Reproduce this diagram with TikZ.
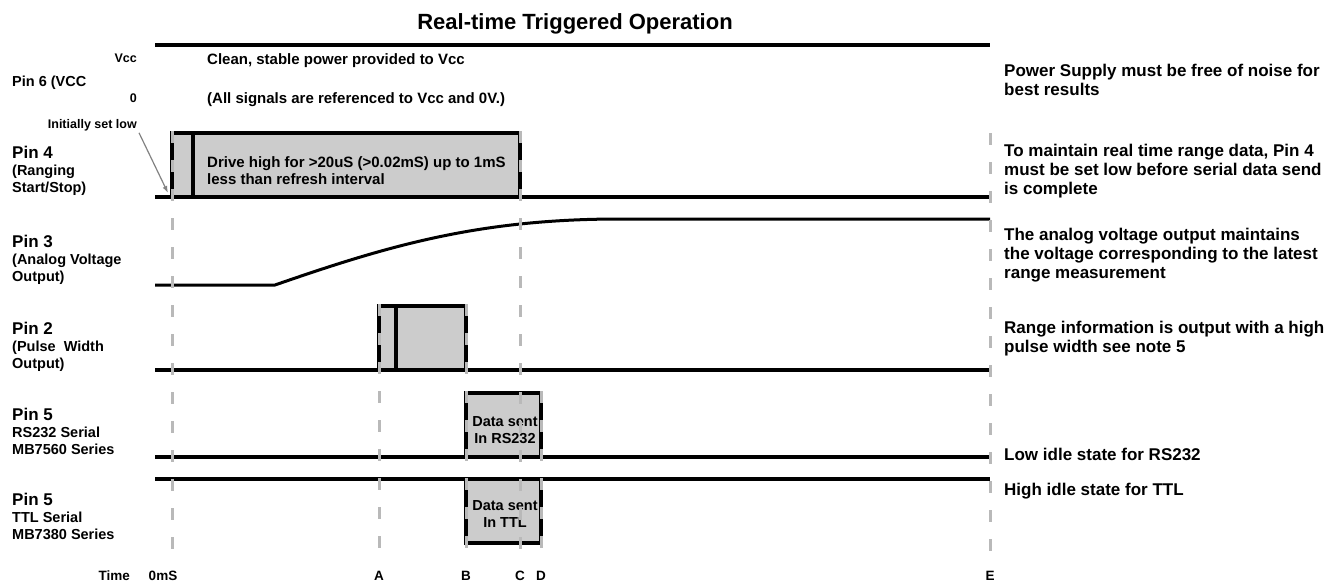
\documentclass[tikz,border=0pt]{standalone}
\usepackage{fontspec}
\setmainfont{Liberation Sans}
\usetikzlibrary{positioning, arrows.meta}
\definecolor{boxgray}{RGB}{204,204,204}
\definecolor{tgray}{RGB}{185,185,185}
\definecolor{agray}{RGB}{130,130,130}

\begin{document}
\begin{tikzpicture}[x=1pt, y=-1pt, font=\bfseries,
        >={Latex[length=7pt, width=5pt]},
        sig/.style = {line width=4pt},
        ana/.style = {line width=3pt, line join=round},
        pulse/.style = {fill=boxgray},
        tline/.style = {draw=tgray, line width=3pt, dash pattern=on 12pt off 17pt},
        pinlbl/.style = {anchor=base west, align=left, inner sep=0pt,
                        font=\fontsize{14.5}{17}\selectfont\bfseries},
        note/.style = {anchor=base west, align=left, inner sep=0pt,
                        font=\fontsize{17}{19}\selectfont\bfseries},
        txt/.style = {anchor=base west, align=left, inner sep=0pt,
                        font=\fontsize{15}{16.5}\selectfont\bfseries},
        small/.style = {anchor=base east, inner sep=0pt,
                        font=\fontsize{12.5}{14}\selectfont\bfseries},
        data/.style = {anchor=base, align=center, inner sep=0pt,
                        font=\fontsize{14.5}{17}\selectfont\bfseries},
        tlbl/.style = {anchor=base, inner sep=0pt,
                        font=\fontsize{13.5}{15}\selectfont\bfseries}]
        \useasboundingbox (0,0) rectangle (1335,586);

        % title
        \node[anchor=base, inner sep=0pt, font=\fontsize{22}{26}\selectfont\bfseries]
            (title) at (575,30) {Real-time Triggered Operation};

        % pin labels (base = last line)
        \node[pinlbl] (pin6) at (12,86) {Pin 6 (VCC};
        \node[small] (vcc) at (137,63) {Vcc};
        \node[small] (zero) at (137,102) {0};
        \node[small] (init) at (137,128) {Initially set low};
        \node[pinlbl] (pin4) at (12,192) {{\fontsize{17}{17}\selectfont Pin 4}\\(Ranging\\Start/Stop)};
        \node[pinlbl] (pin3) at (12,281) {{\fontsize{17}{17}\selectfont Pin 3}\\(Analog Voltage\\Output)};
        \node[pinlbl] (pin2) at (12,368) {{\fontsize{17}{17}\selectfont Pin 2}\\(Pulse\ \ Width\\Output)};
        \node[pinlbl] (pin5a) at (12,454) {{\fontsize{17}{17}\selectfont Pin 5}\\RS232 Serial\\MB7560 Series};
        \node[pinlbl] (pin5b) at (12,539) {{\fontsize{17}{17}\selectfont Pin 5}\\TTL Serial\\MB7380 Series};

        % pulses
        \fill[pulse] (172,133) rectangle (520,197);
        \fill[pulse] (379,306) rectangle (466,370);
        \fill[pulse] (466,393) rectangle (541,457);
        \fill[pulse] (466,479) rectangle (541,543);

        % traces
        \draw[sig] (155,45) -- (990,45);
        \draw[sig] (155,197) -- (990,197);
        \draw[sig] (172,197) |- (520,133) -- (520,197);
        \draw[sig] (193,133) -- (193,197);
        \draw[ana] (155,285) -- (275,285)
            .. controls (390,245) and (480,219) .. (620,219) -- (990,219);
        \draw[sig] (155,370) -- (990,370);
        \draw[sig] (379,370) |- (466,306) -- (466,370);
        \draw[sig] (396,306) -- (396,370);
        \draw[sig] (155,457) -- (990,457);
        \draw[sig] (466,457) |- (541,393) -- (541,457);
        \draw[sig] (155,479) -- (990,479);
        \draw[sig] (466,479) |- (541,543) -- (541,479);

        % texts in the traces
        \node[txt] (clean) at (207,65) {Clean, stable power provided to Vcc};
        \node[txt] (ref) at (207,103) {(All signals are referenced to Vcc and 0V.)};
        \node[txt] (drive) at (207,184) {Drive high for >20uS (>0.02mS) up to 1mS\\less than refresh interval};
        \node[data] (rs) at (505,443) {Data sent\\In RS232};
        \node[data] (ttl) at (505,527) {Data sent\\In TTL};

        % time marks
        \node[tlbl, anchor=base east] (time) at (130,580) {Time};
        \node[tlbl] (t0) at (163,580) {0mS};
        \node[tlbl] (tA) at (379,580) {A};
        \node[tlbl] (tB) at (466,580) {B};
        \node[tlbl] (tC) at (520,580) {C};
        \node[tlbl] (tD) at (541,580) {D};
        \node[tlbl] (tE) at (990,580) {E};
        \draw[tline] (172,131) -- (172,565);
        \draw[tline] (tA |- 0,304) -- ([yshift=6pt]tA.north);
        \draw[tline] (tB |- 0,304) -- ([yshift=6pt]tB.north);
        \draw[tline] (tC |- 0,131) -- ([yshift=6pt]tC.north);
        \draw[tline] (tD |- 0,391) -- ([yshift=6pt]tD.north);
        \draw[tline] (tE |- 0,133) -- ([yshift=6pt]tE.north);

        \coordinate (start) at (168,193);
        \draw[->, agray, line width=1.2pt] ([xshift=2pt, yshift=-2pt]init.south east) -- (start);

        % notes (base = last line)
        \node[note] (n1) at (1004,95) {Power Supply must be free of noise for\\best results};
        \node[note] (n2) at (1004,194) {To maintain real time range data, Pin 4\\must be set low before serial data send\\is complete};
        \node[note] (n3) at (1004,278) {The analog voltage output maintains\\the voltage corresponding to the latest\\range measurement};
        \node[note] (n4) at (1004,352) {Range information is output with a high\\pulse width see note 5};
        \node[note] (n5) at (1004,460) {Low idle state for RS232};
        \node[note] (n6) at (1004,495) {High idle state for TTL};
    \end{tikzpicture}
\end{document}
